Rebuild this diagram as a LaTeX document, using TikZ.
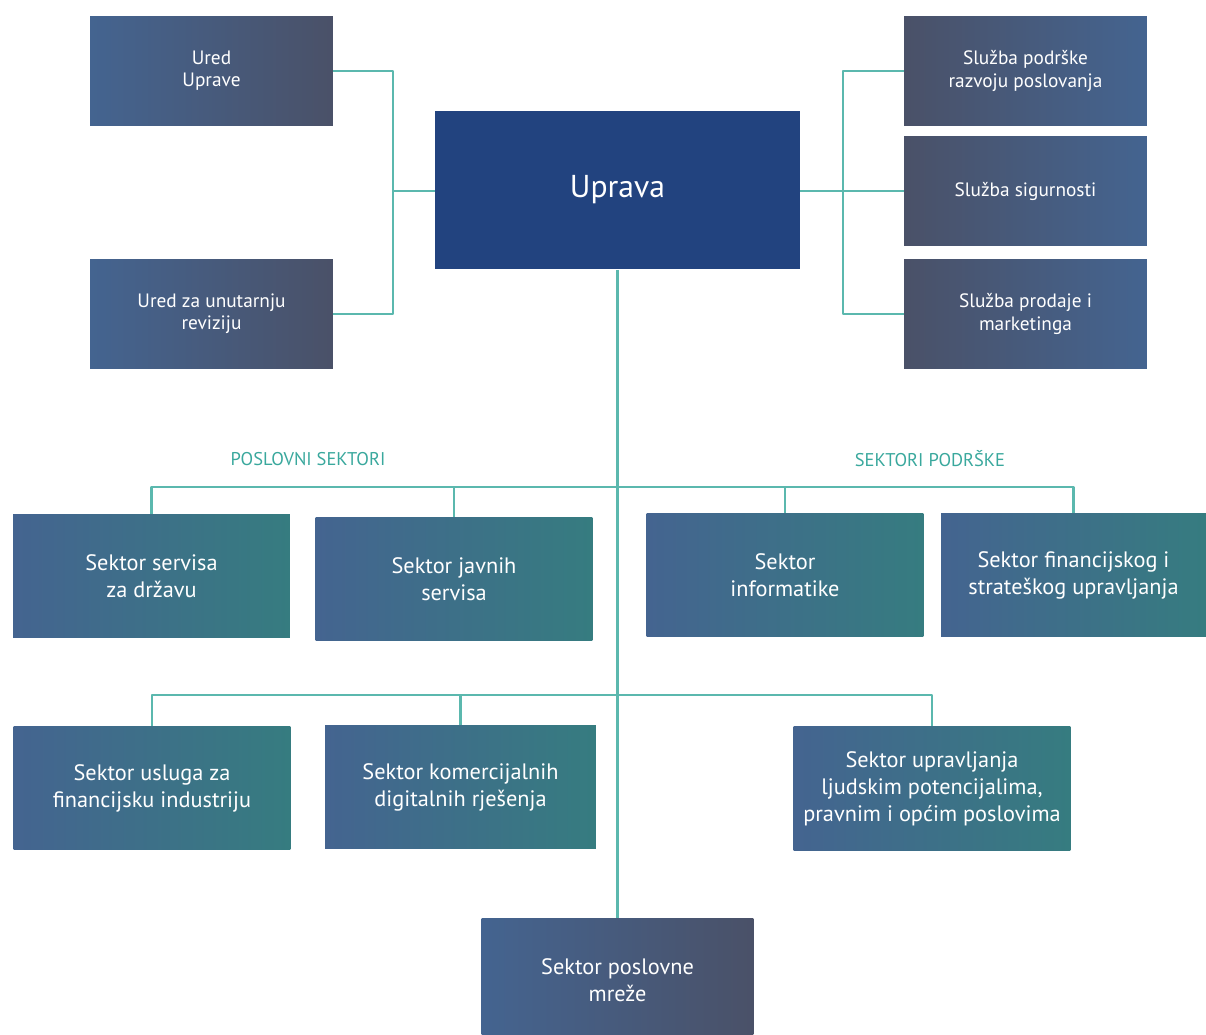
\documentclass[tikz,border=0pt]{standalone}
\usepackage{fontspec}
\setmainfont{PT Sans}
\definecolor{navy}{HTML}{22437F}
\definecolor{steel}{HTML}{446490}
\definecolor{slate}{HTML}{4A5168}
\definecolor{petrol}{HTML}{367C80}
\definecolor{mint}{HTML}{5BB8AE}
\definecolor{minttext}{HTML}{3AA89D}
\begin{document}
\begin{tikzpicture}[x=0.02cm,y=-0.02cm,line join=round,
		box/.style={rectangle,inner sep=2pt,align=center,text=white},
		office/.style={box,minimum width=4.86cm,minimum height=2.2cm,font=\fontsize{11}{12.6}\selectfont},
		lgrad/.style={left color=steel,right color=slate},
		rgrad/.style={left color=slate,right color=steel},
		sector/.style={box,minimum width=5.54cm,minimum height=2.48cm,left color=steel,right color=petrol,font=\fontsize{12.7}{15.4}\selectfont},
		link/.style={draw=mint,line width=1.3pt},
		group/.style={text=minttext,font=\fontsize{10.5}{12}\selectfont}
	]
	\useasboundingbox (0,0) rectangle (1206,1034);
	% uprava and offices
	\node[box,fill=navy,minimum width=7.3cm,minimum height=3.18cm,font=\fontsize{18}{20}\selectfont] (uprava) at (617.5,190) {Uprava};
	\node[office,lgrad] (ured) at (211.5,71) {Ured\\Uprave};
	\node[office,lgrad] (revizija) at (211.5,314) {Ured za unutarnju\\reviziju};
	\node[office,rgrad] (podrska) at (1025.5,71) {Služba podrške\\razvoju poslovanja};
	\node[office,rgrad] (sigurnost) at (1025.5,191) {Služba sigurnosti};
	\node[office,rgrad] (prodaja) at (1025.5,314) {Služba prodaje i\\marketinga};
	% sectors
	\node[sector] (drzava) at (151.5,576) {Sektor servisa\\za državu};
	\node[sector] (javni) at (454,579) {Sektor javnih\\servisa};
	\node[sector] (informatika) at (785,575) {Sektor\\informatike};
	\node[sector,minimum width=5.3cm] (financije) at (1073.5,575) {Sektor financijskog i\\strateškog upravljanja};
	\node[sector] (usluge) at (152,788) {Sektor usluga za\\financijsku industriju};
	\node[sector,minimum width=5.42cm] (digital) at (460.5,787) {Sektor komercijalnih\\digitalnih rješenja};
	\node[sector] (ljudski) at (932,788.5) {Sektor upravljanja\\ljudskim potencijalima,\\pravnim i općim poslovima};
	\node[box,minimum width=5.44cm,minimum height=2.48cm,lgrad,font=\fontsize{12.7}{15.4}\selectfont] (mreza) at (617.5,980) {Sektor poslovne\\mreže};
	\node[group] (poslovni) at (308,459) {POSLOVNI SEKTORI};
	\node[group] (podrske) at (930,459) {SEKTORI PODRŠKE};
	% connectors
	\coordinate (lbus) at (393,191);
	\coordinate (rbus) at (843,191);
	\coordinate (bus1) at (617.5,487);
	\coordinate (bus2) at (617.5,695);
	\draw[link] (uprava.west |- lbus) -- (lbus) (ured.east) -| (lbus) (revizija.east) -| (lbus);
	\draw[link] (uprava.east |- rbus) -- (rbus) (podrska.west) -| (rbus) (sigurnost.west) -- (rbus) (prodaja.west) -| (rbus);
	\draw[link] (uprava.south) -- (mreza.north);
	\draw[link] (drzava.north) |- (bus1) (javni.north) |- (bus1) (informatika.north) |- (bus1) (financije.north) |- (bus1);
	\draw[link] (usluge.north) |- (bus2) (digital.north) |- (bus2) (ljudski.north) |- (bus2);
\end{tikzpicture}
\end{document}
